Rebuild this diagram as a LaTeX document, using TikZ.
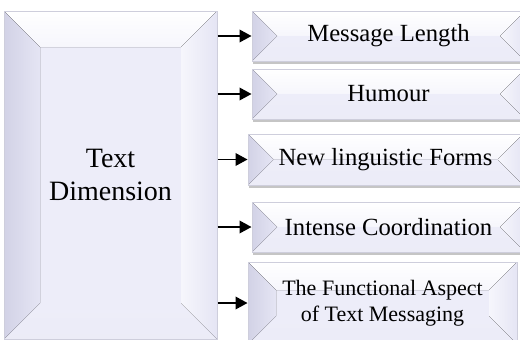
\documentclass[tikz,border=0pt]{standalone}
\usepackage{fontspec}
\setmainfont{Liberation Serif}
\usetikzlibrary{arrows.meta}
\tikzset{every picture/.style={line width=0.75pt}}

\definecolor{lavface}{RGB}{237,237,249}
\definecolor{lavdark}{RGB}{210,210,230}
\definecolor{lavmid}{RGB}{229,229,244}
\definecolor{lavlight}{RGB}{246,246,252}
\definecolor{boxedge}{RGB}{206,206,220}

\tikzset{
  bevtop/.style={top color=white, bottom color=lavlight},
  bevbot/.style={top color=lavface, bottom color=lavmid!60!lavlight},
  bevleft/.style={left color=lavdark, right color=lavmid},
  bevright/.style={left color=lavlight, right color=lavmid},
  boxshadow/.style={fill=black!45, opacity=0.5},
  boxtext/.style={inner sep=0pt, align=center, text=black},
  flowarrow/.style={-{Triangle[length=9pt,width=9.5pt]}, line width=1.1pt, black}
}

% bevelled box: name, x1, y1, x2, y2, bevel depth, font, text
\newcommand{\bevbox}[8]{%
  \fill[boxshadow] (#2+1,#3+3) rectangle (#4+1,#5+3);
  \fill[lavface] (#2,#3) rectangle (#4,#5);
  \fill[bevtop] (#2,#3) -- (#4,#3) -- (#4-#6,#3+#6) -- (#2+#6,#3+#6) -- cycle;
  \fill[bevbot] (#2,#5) -- (#4,#5) -- (#4-#6,#5-#6) -- (#2+#6,#5-#6) -- cycle;
  \fill[bevleft] (#2,#3) -- (#2+#6,#3+#6) -- (#2+#6,#5-#6) -- (#2,#5) -- cycle;
  \fill[bevright] (#4,#3) -- (#4-#6,#3+#6) -- (#4-#6,#5-#6) -- (#4,#5) -- cycle;
  \draw[boxedge, line width=0.4pt] (#2,#3) rectangle (#4,#5);
  \node[boxtext, font=#7, minimum width={(#4-#2)*0.75pt}, minimum height={(#5-#3)*0.75pt}] (#1) at ({(#2+#4)/2},{(#3+#5)/2}) {#8};
}

\begin{document}
\begin{tikzpicture}[x=0.75pt,y=0.75pt,yscale=-1,xscale=1]
\useasboundingbox (0,0) rectangle (520,339);
\clip (0,0) rectangle (520,339);

%Shape: Left box
\bevbox{dim}{4}{11}{217}{339}{36}{\fontsize{21}{25}\selectfont}{Text\\Dimension}

%Shape: Right boxes
\bevbox{len}{252}{11}{525}{61}{25}{\fontsize{18.5}{22}\selectfont}{Message Length}
\bevbox{hum}{252}{69}{525}{119}{25}{\fontsize{18.5}{22}\selectfont}{Humour}
\bevbox{ling}{248}{134}{523}{185}{25}{\fontsize{18.5}{22}\selectfont}{New linguistic Forms}
\bevbox{coord}{252}{202}{525}{252}{25}{\fontsize{18.5}{22}\selectfont}{Intense Coordination}
\bevbox{func}{248}{262}{517}{344}{28}{\fontsize{16.5}{19.5}\selectfont}{The Functional Aspect\\of Text Messaging}

%Straight Lines: arrows
\foreach \n in {len,hum,ling,coord,func}
  \draw[flowarrow] (dim.east |- \n.west) -- (\n.west);

\end{tikzpicture}
\end{document}
